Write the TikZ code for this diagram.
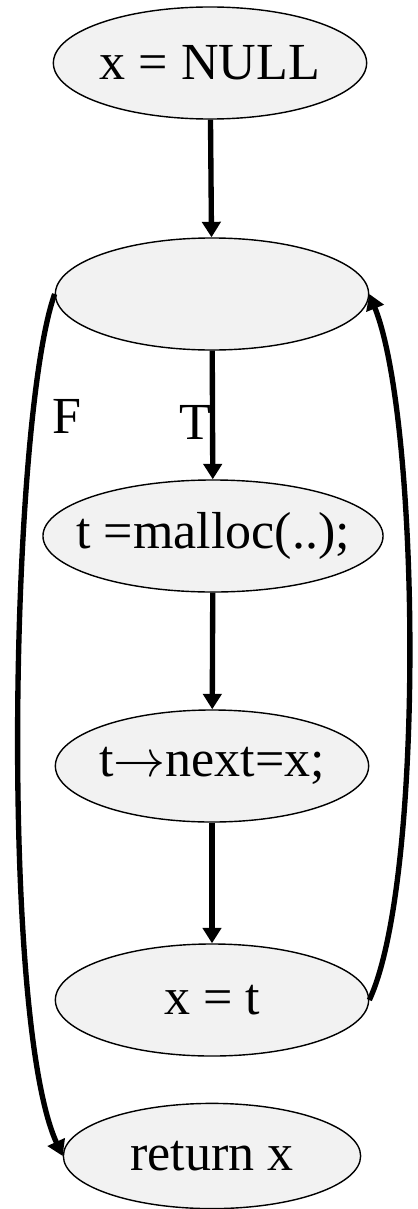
\RequirePackage{fix-cm}
\documentclass[tikz,border=0pt]{standalone}
\usepackage{fontspec}
\setmainfont{Liberation Serif}
\usepackage{tikz}
\usetikzlibrary{arrows.meta,shapes.geometric}
\definecolor{nodegray}{RGB}{242,242,242}

\begin{document}
\begin{tikzpicture}[x=0.025cm, y=-0.025cm,
    every node/.style={font=\fontsize{37}{40}\selectfont},
    stmt/.style={ellipse, draw, line width=1pt, fill=nodegray, inner sep=0pt, minimum width=7.83cm, minimum height=2.8cm},
    flow/.style={line width=3.8pt, -{Triangle[length=11pt,width=13pt]}}]
  \useasboundingbox (0,0) rectangle (418,1209);

  % Statements
  \node[stmt, label=center:{x = NULL}] (init) at (210,63) {};
  \node[stmt] (test) at (212,294) {};
  \node[stmt, minimum width=8.5cm, label=center:{t =malloc(..);}] (alloc) at (213,536) {};
  \node[stmt, label=center:{t$\rightarrow$next=x;}] (link) at (212,766) {};
  \node[stmt, label=center:{x = t}] (update) at (212,1000) {};
  \node[stmt, minimum width=7.43cm, minimum height=2.63cm, label=center:{return x}] (ret) at (212,1156) {};

  % Edges
  \draw[flow] (init) -- (test);
  \draw[flow] (test) -- (alloc);
  \draw[flow] (alloc) -- (link);
  \draw[flow] (link) -- (update);
  \draw[flow] (update.east) .. controls (425,880) and (420,420) .. (test.east);
  \draw[flow] (test.west) .. controls (10,420) and (0,1020) .. (ret.west);

  % Labels
  \node (F) at (67,416) {F};
  \node (T) at (195,422) {T};
\end{tikzpicture}
\end{document}
